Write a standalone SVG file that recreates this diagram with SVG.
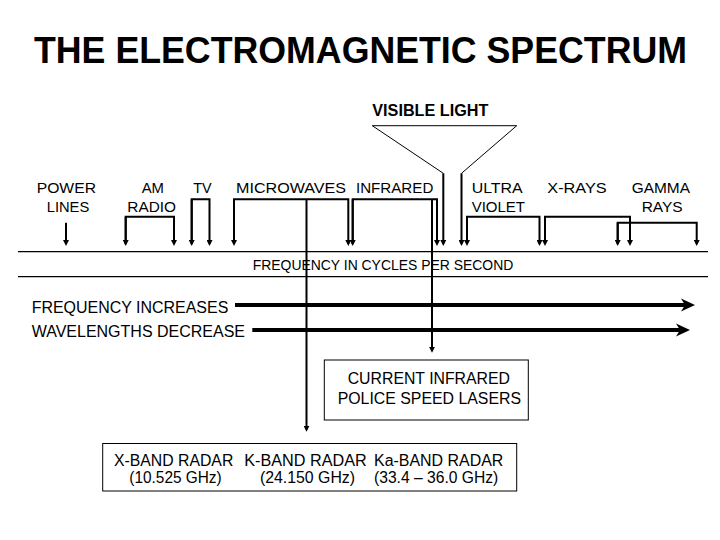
<svg xmlns="http://www.w3.org/2000/svg" width="720" height="540" viewBox="0 0 720 540">
<style>
text{font-family:"Liberation Sans",Arial,sans-serif;fill:#000}
.lab{font-size:15px}
.big{font-size:16px}
.cyc{font-size:14px}
.title{font-size:36px;font-weight:bold}
.vis{font-size:16px;font-weight:bold}
.c{fill:none;stroke:#000;stroke-width:2}
.thin{fill:none;stroke:#000;stroke-width:1}
.sep{fill:none;stroke:#000;stroke-width:1.3}
.thick{fill:none;stroke:#000;stroke-width:4}
.box{fill:#fff;stroke:#000;stroke-width:1}
</style>
<defs>
<marker id="ah" viewBox="0 0 6 6" refX="4" refY="3" markerWidth="6" markerHeight="6" markerUnits="userSpaceOnUse" orient="auto">
<path d="M0,0 L6,3 L0,6 z" fill="#000"/>
</marker>
</defs>
<rect width="720" height="540" fill="#fff"/>

<g id="title">
<text class="title" x="34" y="63" textLength="653" lengthAdjust="spacingAndGlyphs">THE ELECTROMAGNETIC SPECTRUM</text>
</g>

<g id="scale">
<line class="sep" x1="18" y1="251.7" x2="708" y2="251.7"/>
<line class="sep" x1="18" y1="276.7" x2="708" y2="276.7"/>
<text class="cyc" x="252.7" y="270" textLength="260.6" lengthAdjust="spacingAndGlyphs">FREQUENCY IN CYCLES PER SECOND</text>
</g>

<g id="power-lines">
<text class="lab" x="36.7" y="192.7" textLength="59.3" lengthAdjust="spacingAndGlyphs">POWER</text>
<text class="lab" x="46.7" y="212.3" textLength="42.6" lengthAdjust="spacingAndGlyphs">LINES</text>
</g>
<g id="am-radio">
<text class="lab" x="141.7" y="192.7" textLength="22.3" lengthAdjust="spacingAndGlyphs">AM</text>
<text class="lab" x="127.3" y="212.3" textLength="48.7" lengthAdjust="spacingAndGlyphs">RADIO</text>
</g>
<g id="tv">
<text class="lab" x="193.3" y="192.7" textLength="18.4" lengthAdjust="spacingAndGlyphs">TV</text>
</g>
<g id="microwaves">
<text class="lab" x="236" y="192.7" textLength="110" lengthAdjust="spacingAndGlyphs">MICROWAVES</text>
</g>
<g id="infrared">
<text class="lab" x="356" y="192.7" textLength="77.3" lengthAdjust="spacingAndGlyphs">INFRARED</text>
</g>
<g id="visible-light">
<text class="vis" x="372.3" y="116" textLength="116" lengthAdjust="spacingAndGlyphs">VISIBLE LIGHT</text>
</g>
<g id="ultra-violet">
<text class="lab" x="471.7" y="192.7" textLength="51" lengthAdjust="spacingAndGlyphs">ULTRA</text>
<text class="lab" x="471.7" y="211.7" textLength="53.3" lengthAdjust="spacingAndGlyphs">VIOLET</text>
</g>
<g id="x-rays">
<text class="lab" x="547.3" y="192.7" textLength="59.4" lengthAdjust="spacingAndGlyphs">X-RAYS</text>
</g>
<g id="gamma-rays">
<text class="lab" x="631.7" y="192.7" textLength="58.3" lengthAdjust="spacingAndGlyphs">GAMMA</text>
<text class="lab" x="641.7" y="211.7" textLength="41" lengthAdjust="spacingAndGlyphs">RAYS</text>
</g>

<g id="frequency-increases">
<text class="big" x="31.7" y="312.7" textLength="196.6" lengthAdjust="spacingAndGlyphs">FREQUENCY INCREASES</text>
</g>
<g id="wavelengths-decrease">
<text class="big" x="31.7" y="336.7" textLength="213.3" lengthAdjust="spacingAndGlyphs">WAVELENGTHS DECREASE</text>
</g>

<g id="connectors">
<path class="c" d="M66,222.7 V244" marker-end="url(#ah)"/>
<path class="c" d="M125.7,244 V216.7 H174 V244" marker-end="url(#ah)"/>
<path class="c" d="M125.7,216.7 V244" marker-end="url(#ah)"/>
<path class="c" d="M191.7,244 V199.3 H209.5 V244" marker-end="url(#ah)"/>
<path class="c" d="M191.7,199.3 V244" marker-end="url(#ah)"/>
<path class="c" d="M234,244 V199.3 H348.3 V244" marker-end="url(#ah)"/>
<path class="c" d="M234,199.3 V244" marker-end="url(#ah)"/>
<path class="c" d="M352.7,244 V199.3 H437 V244" marker-end="url(#ah)"/>
<path class="c" d="M352.7,199.3 V244" marker-end="url(#ah)"/>
<path class="thin" d="M443.3,173.3 L372.3,125.7 H516.7 L461.5,173.3"/>
<path class="c" d="M443.3,173.3 V244" marker-end="url(#ah)"/>
<path class="c" d="M461.5,173.3 V244" marker-end="url(#ah)"/>
<path class="c" d="M467,244 V216.7 H539.5 V244" marker-end="url(#ah)"/>
<path class="c" d="M467,216.7 V244" marker-end="url(#ah)"/>
<path class="c" d="M545,244 V216.7 H630 V244" marker-end="url(#ah)"/>
<path class="c" d="M545,216.7 V244" marker-end="url(#ah)"/>
<path class="c" d="M617.7,244 V222.7 H696.7 V244" marker-end="url(#ah)"/>
<path class="c" d="M617.7,222.7 V244" marker-end="url(#ah)"/>
<path class="c" d="M306.5,199.3 V429.7" marker-end="url(#ah)"/>
<path class="c" d="M432,199.3 V350.7" marker-end="url(#ah)"/>
<line class="thick" x1="235" y1="305" x2="686" y2="305"/>
<polygon points="695,305 681,298.5 685,305 681,311.5" fill="#000"/>
<line class="thick" x1="252.3" y1="330" x2="681" y2="330"/>
<polygon points="690,330 676,323.5 680,330 676,336.5" fill="#000"/>
</g>

<g id="police-lasers">
<rect class="box" x="324.3" y="360" width="204" height="60"/>
<text class="big" x="347.7" y="384" textLength="162.3" lengthAdjust="spacingAndGlyphs">CURRENT INFRARED</text>
<text class="big" x="337.7" y="404" textLength="183.3" lengthAdjust="spacingAndGlyphs">POLICE SPEED LASERS</text>
</g>

<g id="radar-bands">
<rect class="box" x="102.7" y="443.5" width="414" height="47.5"/>
<text class="big" x="114" y="465.5" textLength="119.3" lengthAdjust="spacingAndGlyphs">X-BAND RADAR</text>
<text class="big" x="244.3" y="465.5" textLength="122.4" lengthAdjust="spacingAndGlyphs">K-BAND RADAR</text>
<text class="big" x="374" y="465.5" textLength="129.3" lengthAdjust="spacingAndGlyphs">Ka-BAND RADAR</text>
<text class="big" x="129.3" y="483" textLength="92.4" lengthAdjust="spacingAndGlyphs">(10.525 GHz)</text>
<text class="big" x="260" y="483" textLength="95" lengthAdjust="spacingAndGlyphs">(24.150 GHz)</text>
<text class="big" x="374" y="483" textLength="124.3" lengthAdjust="spacingAndGlyphs">(33.4 – 36.0 GHz)</text>
</g>
</svg>
